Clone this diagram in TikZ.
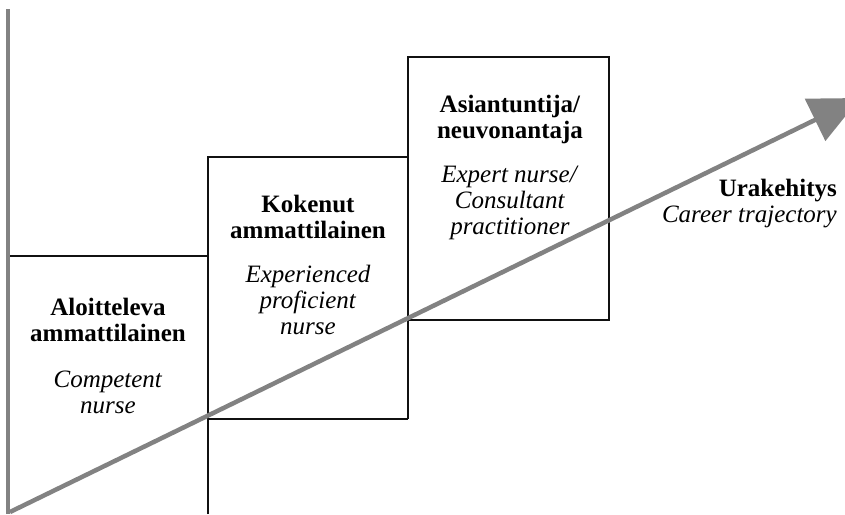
\documentclass[tikz,border=0pt]{standalone}
\usepackage{fontspec}
\setmainfont{Liberation Serif}
\usepackage{tikz}
\usetikzlibrary{arrows.meta}
\definecolor{CareerGray}{HTML}{828282}
\definecolor{StepLine}{HTML}{111111}

\tikzset{
  stepline/.style={draw=StepLine,line width=2.1pt},
  steplabel/.style={anchor=north,inner sep=0pt,align=center,
    font=\fontsize{25}{26}\selectfont},
}

\begin{document}
\begin{tikzpicture}[x=1pt,y=-1pt]
    \useasboundingbox (0,0) rectangle (845,514);
    \clip (0,0) rectangle (845,514);
    % stairs
    \draw[stepline] (8,256) -- (208,256);
    \draw[stepline] (208,514) -- (208,157) -- (408,157);
    \draw[stepline] (208,419) -- (408,419);
    \draw[stepline] (408,419) -- (408,57) -- (609,57) -- (609,320) -- (408,320);
    \draw[CareerGray,line width=4pt] (8,9) -- (8,514);
    % labels
    \node[steplabel] (aloittelija) at (108,298)
      {\textbf{Aloitteleva}\\\textbf{ammattilainen}\\[20pt]
       \textit{Competent}\\\textit{nurse}};
    \node[steplabel] (kokenut) at (308,195)
      {\textbf{Kokenut}\\\textbf{ammattilainen}\\[18pt]
       \textit{Experienced}\\\textit{proficient}\\\textit{nurse}};
    \node[steplabel] (asiantuntija) at (510,95)
      {\textbf{Asiantuntija/}\\\textbf{neuvonantaja}\\[18pt]
       \textit{Expert nurse/}\\\textit{Consultant}\\\textit{practitioner}};
    \node[steplabel,anchor=north east,align=right] (ura) at (837,179)
      {\textbf{Urakehitys}\\\textit{Career trajectory}};
    % trajectory
    \coordinate (alku) at (10,512);
    \coordinate (karki) at (860,98);
    \draw[CareerGray,line width=4.5pt,-{Triangle[length=50pt,width=46pt]}]
      (alku) -- (karki);
\end{tikzpicture}
\end{document}
